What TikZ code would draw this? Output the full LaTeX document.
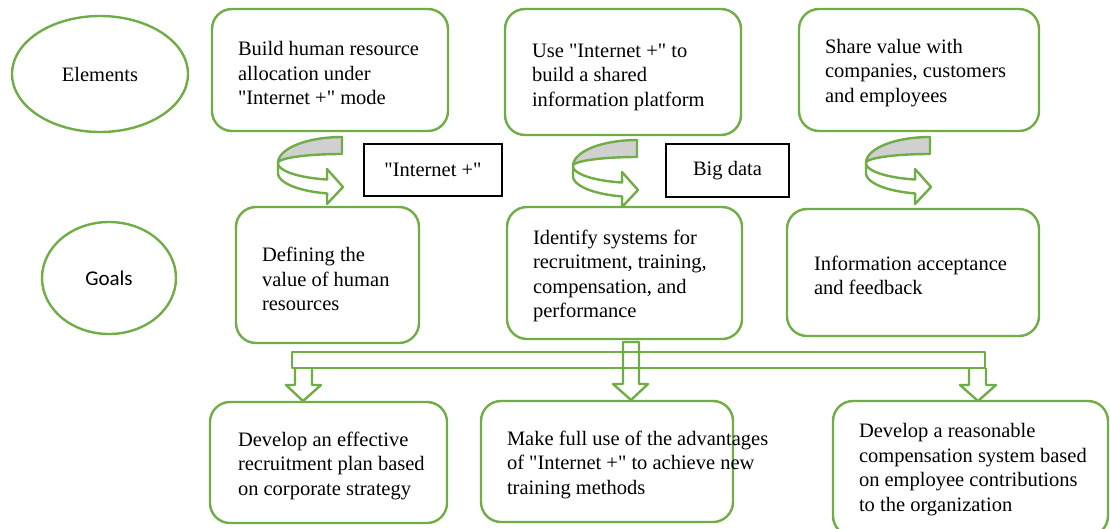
\documentclass[tikz,border=0pt]{standalone}
\usepackage{fontspec}
\setmainfont{Liberation Serif}[Ligatures=TeXOff]
\newfontfamily\goalsfont{Carlito}
\usetikzlibrary{shapes.geometric,calc}
\definecolor{ogreen}{HTML}{70AD47}
\definecolor{shade}{HTML}{D0D0D0}
\begin{document}
\begin{tikzpicture}[x=1pt,y=-1pt,
  gline/.style={draw=ogreen,line width=2.4pt,line join=round},
  card/.style={gline,rounded corners=20pt,inner sep=0pt,fill=white},
  txt/.style={anchor=west,align=left,inner sep=0pt,font=\fontsize{20.5}{24.5}\selectfont},
  oval/.style={gline,ellipse,inner sep=0pt},
  tag/.style={draw=black,line width=1.4pt,inner sep=0pt,font=\fontsize{20.5}{24.5}\selectfont},
  uturn/.pic={
    \draw[gline,fill=shade] (0,0) -- plot[domain=-90:-180,samples=40] ({64*cos(\x)},{26+26*sin(\x)})
       -- plot[domain=-180:-90,samples=40] ({64*cos(\x)},{26+9*sin(\x)}) -- cycle;
    \draw[gline,fill=white] plot[domain=180:103.5,samples=40] ({64*cos(\x)},{26+17*sin(\x)})
       -- (-15,32) -- (1,50) -- (-15,67)
       -- plot[domain=103.5:180,samples=40] ({64*cos(\x)},{36+21*sin(\x)}) -- cycle;
  }]
\useasboundingbox (0,0) rectangle (1110,528);
\clip (0,0) rectangle (1110,528);

% left labels
\node[oval,minimum width=176pt,minimum height=116pt,font=\fontsize{20.5}{24.5}\selectfont] (el) at (100,74) {Elements};
\node[oval,minimum width=134pt,minimum height=112pt,font=\goalsfont\fontsize{21}{24}\selectfont] (go) at (109,278) {Goals};

% element cards
\node[card,minimum width=236pt,minimum height=122pt] (b1) at (330,70) {};
\node[txt] (t1) at ([xshift=27pt,yshift=-3pt]b1.west) {Build human resource\\allocation under\\"Internet +" mode};
\node[card,minimum width=236pt,minimum height=126pt] (b2) at (623,72) {};
\node[txt] (t2) at ([xshift=28pt,yshift=-5pt]b2.west) {Use "Internet +" to\\build a shared\\information platform};
\node[card,minimum width=240pt,minimum height=122pt] (b3) at (919,70) {};
\node[txt] (t3) at ([xshift=27pt,yshift=-3pt]b3.west) {Share value with\\companies, customers\\and employees};

% goal cards
\node[card,minimum width=183pt,minimum height=136pt] (b4) at (327.5,275) {};
\node[txt] (t4) at ([xshift=27pt,yshift=-4pt]b4.west) {Defining the\\value of human\\resources};
\node[card,minimum width=235pt,minimum height=132pt] (b5) at (624.5,273) {};
\node[txt] (t5) at ([xshift=27pt,yshift=-3pt]b5.west) {Identify systems for\\recruitment, training,\\compensation, and\\performance};
\node[card,minimum width=252pt,minimum height=127pt] (b6) at (913,272.5) {};
\node[txt] (t6) at ([xshift=28pt,yshift=-3pt]b6.west) {Information acceptance\\and feedback};

% curved arrows and tags
\pic at (342,137) {uturn};
\pic at (637,140) {uturn};
\pic at (930,137) {uturn};
\node[tag,minimum width=138pt,minimum height=52pt] (inet) at (433,170) {"Internet +"};
\node[tag,minimum width=123pt,minimum height=53pt] (bd) at (727.5,170.5) {Big data};

% distribution bar and block arrows
\draw[gline] (292,352) rectangle (985,368);
\draw[gline] (295,368) -- (295,385) -- (286,385) -- (303,401) -- (321,385) -- (312,385) -- (312,368);
\draw[gline] (623,342) -- (623,384) -- (613,384) -- (631,400) -- (648,384) -- (639,384) -- (639,342) -- cycle;
\draw[gline] (969,368) -- (969,385) -- (960,385) -- (978,401) -- (996,385) -- (986,385) -- (986,368);

% outcome cards
\node[card,minimum width=237pt,minimum height=121pt] (b7) at (328.5,462.5) {};
\node[txt] (t7) at ([xshift=29pt,yshift=-3pt]b7.west) {Develop an effective\\recruitment plan based\\on corporate strategy};
\node[card,minimum width=252pt,minimum height=121pt] (b8) at (607,461.5) {};
\node[txt] (t8) at ([xshift=27pt,yshift=-3pt]b8.west) {Make full use of the advantages\\of "Internet +" to achieve new\\training methods};
\node[card,minimum width=275pt,minimum height=135pt] (b9) at (970.5,468.5) {};
\node[txt] (t9) at ([xshift=27pt,yshift=-1pt]b9.west) {Develop a reasonable\\compensation system based\\on employee contributions\\to the organization};
\end{tikzpicture}
\end{document}
